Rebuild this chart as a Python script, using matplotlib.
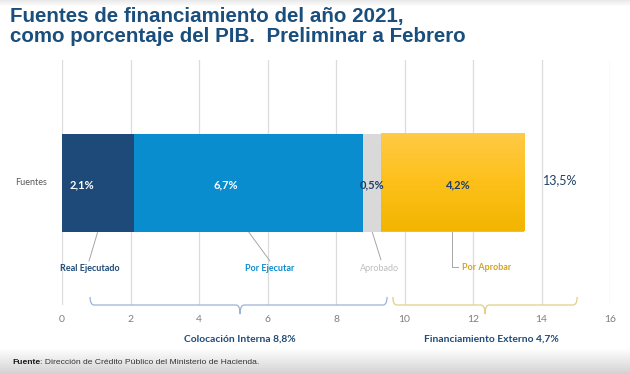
import matplotlib
matplotlib.use("Agg")
import matplotlib.pyplot as plt
import numpy as np
from matplotlib.path import Path
from matplotlib.patches import PathPatch
from matplotlib.colors import LinearSegmentedColormap
import matplotlib.transforms as mtransforms

# ---- data ----
category = "Fuentes"
segment_names = ["Real Ejecutado", "Por Ejecutar", "Aprobado", "Por Aprobar"]
segment_values = [2.1, 6.7, 0.5, 4.2]
segment_labels = ["2,1%", "6,7%", "0,5%", "4,2%"]
total_label = "13,5%"
group_names = ["Colocación Interna 8,8%", "Financiamiento Externo 4,7%"]
x_ticks = [0, 2, 4, 6, 8, 10, 12, 14, 16]
title = "Fuentes de financiamiento del año 2021,\ncomo porcentaje del PIB.  Preliminar a Febrero"
source_bold = "Fuente"
source_text = ": Dirección de Crédito Público del Ministerio de Hacienda."

# ---- styles ----
seg_colors = ["#1d4a78", "#0a8dcf", "#d9d9d9", "#fdbf13"]
name_colors = ["#1d4a78", "#0a8dcf", "#bfbfbf", "#d4a521"]
val_colors = ["white", "white", "#1d3f66", "#1d3f66"]
val_x = [0.58, 4.79, 9.06, 11.56]
dark = "#1f4a78"
lab_font = "Lato"

W, H = 630, 374
fig = plt.figure(figsize=(W / 100, H / 100), dpi=100)

# background gradients
bg = fig.add_axes([0, 0, 1, 1], zorder=-10)
bg.axis("off")
grad = np.ones((H, 1))
for i in range(H):
    if i >= 348:
        t = (i - 348) / (H - 348)
        grad[i] = 1 - 0.18 * t
    elif i < 6:
        grad[i] = 1 - 0.08 * (6 - i) / 6
bg.imshow(np.repeat(grad, 3, axis=1).reshape(H, 1, 3) * np.ones((H, 2, 3)),
          aspect="auto", extent=[0, 1, 0, 1], origin="upper")
bg.set_xlim(0, 1)
bg.set_ylim(0, 1)

ax_left, ax_right = 62 / W, 610 / W
ax_bottom, ax_top = 1 - 305 / H, 1 - 60 / H
ax = fig.add_axes([ax_left, ax_bottom, ax_right - ax_left, ax_top - ax_bottom])
ax.set_xlim(0, 16)
ax.set_ylim(0, 1)
for s in ax.spines.values():
    s.set_visible(False)
ax.set_xticks(x_ticks)
ax.set_xticklabels([str(t) for t in x_ticks], fontsize=7.5, color="#7f7f7f", family=lab_font)
ax.tick_params(axis="x", length=0, pad=7)
ax.set_yticks([])
ax.grid(axis="x", color="#dcdcdc", linewidth=0.9)
ax.set_axisbelow(True)

# stacked bar
bar_y, bar_h = 0.5, 0.4
left = 0.0
bars = []
for v, c in zip(segment_values, seg_colors):
    b = ax.barh(bar_y, v, left=left, height=bar_h, color=c, edgecolor="none", zorder=3)
    bars.append((left, v, b))
    left += v
total = left

# subtle vertical gradient on the last (yellow) segment
yl, yv, yb = bars[-1]
ycmap = LinearSegmentedColormap.from_list("yg", ["#f3b500", "#fdc01a", "#ffca45"])
ax.imshow(np.linspace(0, 1, 50).reshape(-1, 1), cmap=ycmap, aspect="auto", origin="lower",
          extent=[yl, yl + yv, bar_y - bar_h / 2, bar_y + bar_h / 2], zorder=3.5)
ax.set_xlim(0, 16)
ax.set_ylim(0, 1)

ax.text(-0.45, 0.5, category, ha="right", va="center", fontsize=6.5, color="#595959", family=lab_font)

for x, lab, c in zip(val_x, segment_labels, val_colors):
    ax.text(x, 0.49, lab, ha="center", va="center", fontsize=8, fontweight="bold",
            color=c, family=lab_font, zorder=5)
ax.text(14.54, 0.51, total_label, ha="center", va="center", fontsize=9, color="#1d3f66",
        family=lab_font, zorder=5)

# callouts
line_c = "#a6a6a6"
ax.plot([1.05, 0.79], [0.302, 0.18], color=line_c, lw=0.7, zorder=2, clip_on=False)
ax.plot([5.43, 6.07], [0.302, 0.18], color=line_c, lw=0.7, zorder=2, clip_on=False)
ax.plot([9.05, 9.31], [0.302, 0.185], color=line_c, lw=0.7, zorder=2, clip_on=False)
ax.plot([11.39, 11.39, 11.56], [0.302, 0.155, 0.155], color=line_c, lw=0.7, zorder=2, clip_on=False)

cx = [0.82, 6.07, 9.28]
for x, nm, c in zip(cx, segment_names[:3], name_colors[:3]):
    ax.text(x, 0.151, nm, ha="center", va="center", fontsize=6.5,
            fontweight="bold" if c != "#bfbfbf" else "normal", color=c, family=lab_font)
ax.text(11.68, 0.155, segment_names[3], ha="left", va="center", fontsize=6.5,
        fontweight="bold", color=name_colors[3], family=lab_font)

# braces
trans = mtransforms.blended_transform_factory(ax.transData, ax.transAxes)

def brace(x0, x1, xm, color):
    yt, yh, yb = 0.033, 0.0, -0.037
    r = 0.12
    verts = [(x0, yt), (x0, yh), (x0 + r, yh),
             (xm - r, yh), (xm, yh), (xm, yb),
             (xm, yh), (xm + r, yh),
             (x1 - r, yh), (x1, yh), (x1, yt)]
    codes = [Path.MOVETO, Path.CURVE3, Path.CURVE3,
             Path.LINETO, Path.CURVE3, Path.CURVE3,
             Path.CURVE3, Path.CURVE3,
             Path.LINETO, Path.CURVE3, Path.CURVE3]
    p = PathPatch(Path(verts, codes), transform=trans, fill=False, edgecolor=color,
                  lw=0.9, clip_on=False)
    ax.add_patch(p)

brace(0.82, 9.49, 5.2, "#9bb3d8")
brace(9.66, 15.04, 12.35, "#e3cf8a")

ax.text(5.2, -0.139, group_names[0], transform=trans, ha="center", va="center",
        fontsize=7.4, fontweight="bold", color=dark, family=lab_font)
ax.text(12.55, -0.139, group_names[1], transform=trans, ha="center", va="center",
        fontsize=7.4, fontweight="bold", color=dark, family=lab_font)

# title
fig.text(10 / W, 1 - 7 / H, title, ha="left", va="top", fontsize=14.8, fontweight="bold",
         color="#1a4e7c", family="Liberation Sans", linespacing=1.05)

# source
t1 = fig.text(12 / W, 1 - 363 / H, source_bold, ha="left", va="center", fontsize=6.1,
              fontweight="bold", color="#1a1a1a", family="Liberation Sans")
fig.canvas.draw()
bb = t1.get_window_extent()
fig.text(bb.x1 / W, 1 - 363 / H, source_text, ha="left", va="center", fontsize=6.1,
         color="#333333", family="Liberation Sans")

fig.savefig("out.png", dpi=100)
